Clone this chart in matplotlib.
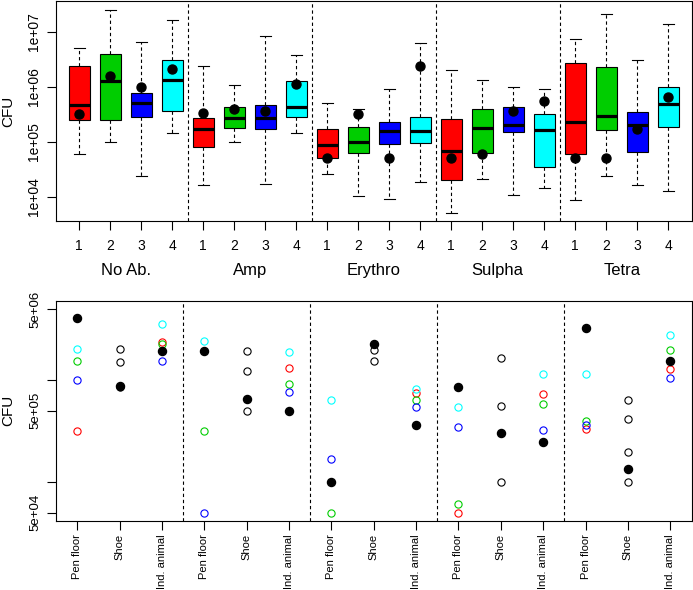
import numpy as np
import matplotlib
matplotlib.use("Agg")
import matplotlib.pyplot as plt

plt.rcParams['font.family'] = ['Liberation Sans', 'DejaVu Sans']

groups = ["No Ab.", "Amp", "Erythro", "Sulpha", "Tetra"]
box_colors = ["#FF0000", "#00CD00", "#0000FF", "#00FFFF"]

# top panel: boxplot summaries, log10(CFU), 4 per antibiotic group
whis_lo = [4.776, 5.000, 4.376, 5.152,  4.212, 5.000, 4.224, 5.152,
           4.406, 4.006, 3.964, 4.273,  3.709, 4.327, 4.030, 4.152,
           3.939, 4.376, 4.212, 4.103]
q1 = [5.400, 5.400, 5.442, 5.552,  4.909, 5.242, 5.230, 5.448,
      4.697, 4.794, 4.958, 4.982,  4.303, 4.788, 5.176, 4.533,
      4.770, 5.206, 4.812, 5.267]
med = [5.661, 6.103, 5.709, 6.121,  5.230, 5.430, 5.430, 5.624,
       4.939, 4.994, 5.188, 5.188,  4.830, 5.248, 5.303, 5.206,
       5.358, 5.467, 5.297, 5.679]
q3 = [6.370, 6.594, 5.891, 6.485,  5.436, 5.624, 5.667, 6.109,
      5.236, 5.261, 5.352, 5.442,  5.412, 5.588, 5.624, 5.509,
      6.424, 6.364, 5.545, 5.988]
whis_hi = [6.697, 7.400, 6.812, 7.218,  6.382, 6.036, 6.921, 6.570,
           5.697, 5.600, 5.958, 6.788,  6.303, 6.127, 6.000, 5.958,
           6.873, 7.327, 6.491, 7.145]
means = [5.503, 6.194, 6.000, 6.315,  5.527, 5.600, 5.558, 6.055,
         4.703, 5.503, 4.703, 6.382,  4.709, 4.782, 5.552, 5.739,
         4.709, 4.709, 5.230, 5.812]

# bottom panel: log10(CFU) per sample type, one value per antibiotic group
sample_types = ["Pen floor", "Shoe", "Ind. animal"]
pen_red = [5.502, np.nan, np.nan, 4.699, 5.519]
pen_green = [6.191, 5.499, 4.699, 4.781, 5.604]
pen_blue = [6.001, 4.699, 5.224, 5.545, 5.558]
pen_cyan = [6.309, 6.384, 5.804, 5.738, 6.060]
pen_black = [6.610, 6.283, 5.001, 5.932, 6.512]

shoe_open = [[6.309, 6.178, 5.929],
             [6.289, 6.089, 5.702],
             [6.302, 6.191],
             [6.217, 5.742, 5.001],
             [5.807, 5.614, 5.299, 5.001]]
shoe_black = [5.945, 5.814, 6.355, 5.479, 5.132]

ani_red = [6.371, 6.119, 5.879, 5.863, 6.109]
ani_green = [6.361, 5.961, 5.807, 5.771, 6.302]
ani_blue = [6.191, 5.886, 5.735, 5.515, 6.024]
ani_cyan = [6.551, 6.273, 5.915, 6.060, 6.447]
ani_black = [6.283, 5.699, 5.561, 5.397, 6.194]

W, H = 693, 590
fig = plt.figure(figsize=(W / 100, H / 100), dpi=100)

def px_axes(left, top, right, bottom):
    return fig.add_axes([left / W, 1 - bottom / H, (right - left) / W, (bottom - top) / H])

dash = (0, (3.0, 2.5))

# ---- top: boxplots
ax1 = px_axes(56, 1, 691.5, 220.7)
n = len(med)
pos = np.arange(1, n + 1)
stats = []
for i in range(n):
    stats.append(dict(whislo=10 ** whis_lo[i], q1=10 ** q1[i], med=10 ** med[i],
                      q3=10 ** q3[i], whishi=10 ** whis_hi[i], fliers=[]))
bp = ax1.bxp(stats, positions=pos, widths=0.68, patch_artist=True, showfliers=False,
             boxprops=dict(edgecolor="black", linewidth=0.8),
             medianprops=dict(color="black", linewidth=2.3, solid_capstyle="butt"),
             whiskerprops=dict(color="black", linewidth=0.8, linestyle=dash),
             capprops=dict(color="black", linewidth=0.8), capwidths=0.34)
for i, patch in enumerate(bp["boxes"]):
    patch.set_facecolor(box_colors[i % 4])
ax1.scatter(pos, 10 ** np.array(means), s=42, color="black", zorder=5)
ax1.set_yscale("log")
ax1.set_ylim(10 ** 3.564, 10 ** 7.558)
ax1.set_xlim(0.25, 20.75)
ax1.set_yticks([1e4, 1e5, 1e6, 1e7])
ax1.set_yticklabels(["1e+04", "1e+05", "1e+06", "1e+07"], rotation=90, va="center")
ax1.yaxis.set_minor_locator(matplotlib.ticker.NullLocator())
ax1.set_xticks(pos)
ax1.set_xticklabels([str(i % 4 + 1) for i in range(n)])
ax1.tick_params(axis="both", length=6.7, width=0.8, labelsize=10)
ax1.tick_params(axis="x", pad=6.5)
ax1.tick_params(axis="y", pad=4)
for b in [4.5, 8.5, 12.5, 16.5]:
    ax1.axvline(b, color="black", linewidth=0.8, linestyle=dash)
for g, name in enumerate(groups):
    ax1.text(g * 4 + 2.5, -0.225, name, transform=ax1.get_xaxis_transform(),
             ha="center", va="center", fontsize=12)
fig.text(8 / W, 1 - 111 / H, "CFU", rotation=90, ha="center", va="center", fontsize=11)

# ---- bottom: individual samples
ax2 = px_axes(56, 301, 691.5, 520.7)
x_pen = np.arange(5) * 3 + 1
x_shoe = x_pen + 1
x_ani = x_pen + 2
ms = 5.2
open_kw = dict(marker="o", linestyle="none", markersize=ms, markerfacecolor="none", markeredgewidth=0.8)
for vals, col in [(pen_red, box_colors[0]), (pen_green, box_colors[1]),
                  (pen_blue, box_colors[2]), (pen_cyan, box_colors[3])]:
    ax2.plot(x_pen, 10 ** np.array(vals), color=col, **open_kw)
for vals, col in [(ani_red, box_colors[0]), (ani_green, box_colors[1]),
                  (ani_blue, box_colors[2]), (ani_cyan, box_colors[3])]:
    ax2.plot(x_ani, 10 ** np.array(vals), color=col, **open_kw)
for g in range(5):
    ax2.plot([x_shoe[g]] * len(shoe_open[g]), 10 ** np.array(shoe_open[g]), color="black", **open_kw)
filled_kw = dict(marker="o", linestyle="none", markersize=ms + 0.6, color="black")
ax2.plot(x_pen, 10 ** np.array(pen_black), **filled_kw)
ax2.plot(x_shoe, 10 ** np.array(shoe_black), **filled_kw)
ax2.plot(x_ani, 10 ** np.array(ani_black), **filled_kw)
ax2.set_yscale("log")
ax2.set_ylim(10 ** 4.619, 10 ** 6.779)
ax2.set_xlim(0.5, 15.5)
ax2.set_yticks([5e4, 1e5, 5e5, 1e6, 5e6])
ax2.set_yticklabels(["5e+04", "", "5e+05", "", "5e+06"], rotation=90, va="center")
ax2.yaxis.set_minor_locator(matplotlib.ticker.NullLocator())
ax2.set_xticks(np.arange(1, 16))
ax2.set_xticklabels(sample_types * 5, rotation=90, fontsize=8)
ax2.tick_params(axis="both", length=6.7, width=0.8)
ax2.tick_params(axis="y", labelsize=9.5, pad=4)
ax2.tick_params(axis="x", pad=3)
for b in [3.5, 6.5, 9.5, 12.5]:
    ax2.axvline(b, color="black", linewidth=0.8, linestyle=dash)
fig.text(8 / W, 1 - 410 / H, "CFU", rotation=90, ha="center", va="center", fontsize=11)

for ax in (ax1, ax2):
    for s in ax.spines.values():
        s.set_linewidth(0.8)

fig.savefig("out.png", dpi=100)
